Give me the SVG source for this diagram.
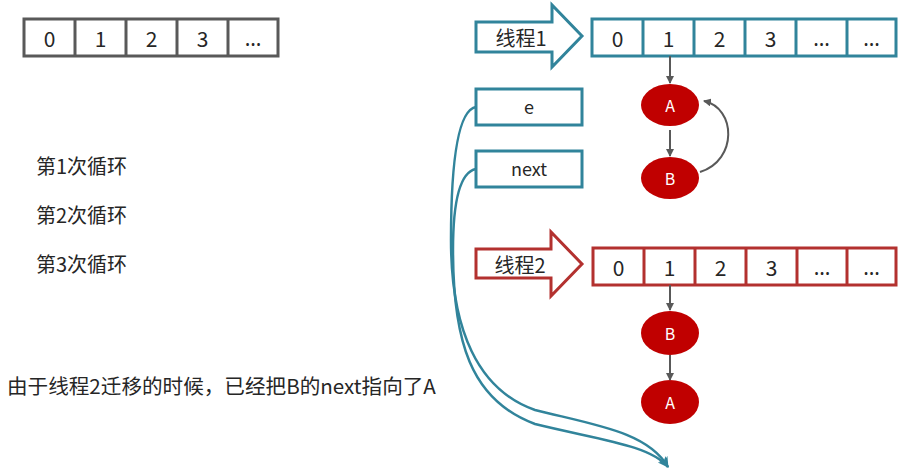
<svg xmlns="http://www.w3.org/2000/svg" width="901" height="475" viewBox="0 0 901 475">
<style>
text{font-family:"Noto Sans CJK SC","Noto Sans",sans-serif;fill:#262626;dominant-baseline:central}
.cell{font-size:21px;text-anchor:middle}
.dots{font-family:"Noto Sans",sans-serif}
.lbl{font-size:20px}
.gray{fill:#fff;stroke:#595959;stroke-width:3}
.teal{fill:#fff;stroke:#31849b;stroke-width:3}
.red{fill:#fff;stroke:#b3312f;stroke-width:3}
.node{fill:#c00000}
.nt{fill:#fff;font-size:16px;text-anchor:middle}
.conn{fill:none;stroke:#595959;stroke-width:2}
.tc{fill:none;stroke:#31849b;stroke-width:2.5}
</style>
<defs>
<marker id="ag" markerWidth="8" markerHeight="8" refX="7" refY="4" orient="auto" markerUnits="userSpaceOnUse">
<path d="M0,0 L8,4 L0,8 Z" fill="#595959"/>
</marker>
<marker id="at" markerWidth="12" markerHeight="12" refX="10" refY="6" orient="auto" markerUnits="userSpaceOnUse">
<path d="M0,1 L11,6 L0,11 L3,6 Z" fill="#31849b"/>
</marker>
</defs>

<g id="array0">
<rect class="gray" x="24" y="19" width="254" height="37"/>
<line x1="75" y1="19" x2="75" y2="56" stroke="#595959" stroke-width="3"/>
<line x1="126" y1="19" x2="126" y2="56" stroke="#595959" stroke-width="3"/>
<line x1="177" y1="19" x2="177" y2="56" stroke="#595959" stroke-width="3"/>
<line x1="228" y1="19" x2="228" y2="56" stroke="#595959" stroke-width="3"/>
<text class="cell" x="49.5" y="38">0</text>
<text class="cell" x="100.5" y="38">1</text>
<text class="cell" x="151.5" y="38">2</text>
<text class="cell" x="202.5" y="38">3</text>
<text class="cell dots" x="253" y="38">…</text>
</g>

<g id="thread1">
<polygon class="teal" points="476,22 552,22 552,5 582,36 552,67 552,52 476,52"/>
<text class="lbl" x="521" y="37" text-anchor="middle">线程1</text>
</g>

<g id="array1">
<rect class="teal" x="592" y="19" width="304" height="37"/>
<g stroke="#31849b" stroke-width="3">
<line x1="643" y1="19" x2="643" y2="56"/>
<line x1="694" y1="19" x2="694" y2="56"/>
<line x1="745" y1="19" x2="745" y2="56"/>
<line x1="796" y1="19" x2="796" y2="56"/>
<line x1="847" y1="19" x2="847" y2="56"/>
</g>
<text class="cell" x="617.5" y="38">0</text>
<text class="cell" x="668.5" y="38">1</text>
<text class="cell" x="719.5" y="38">2</text>
<text class="cell" x="770.5" y="38">3</text>
<text class="cell dots" x="821.5" y="38">…</text>
<text class="cell dots" x="871.5" y="38">…</text>
</g>

<g id="e">
<rect class="teal" x="476" y="89" width="106" height="36"/>
<text x="529" y="106" font-size="18" text-anchor="middle">e</text>
</g>
<g id="next">
<rect class="teal" x="476" y="151" width="106" height="36"/>
<text x="529" y="168" font-size="18" text-anchor="middle">next</text>
</g>

<g id="nodeA1">
<ellipse class="node" cx="670" cy="105" rx="29" ry="21"/>
<text class="nt" x="670" y="105">A</text>
</g>
<g id="nodeB1">
<ellipse class="node" cx="670" cy="178" rx="29" ry="21"/>
<text class="nt" x="670" y="178">B</text>
</g>

<g id="thread2">
<polygon class="red" points="476,249 551,249 551,232 582,264 551,296 551,278 476,278"/>
<text class="lbl" x="520" y="264" text-anchor="middle">线程2</text>
</g>

<g id="array2">
<rect class="red" x="593" y="248" width="303" height="37"/>
<g stroke="#b3312f" stroke-width="3">
<line x1="644" y1="248" x2="644" y2="285"/>
<line x1="695" y1="248" x2="695" y2="285"/>
<line x1="746" y1="248" x2="746" y2="285"/>
<line x1="797" y1="248" x2="797" y2="285"/>
<line x1="847" y1="248" x2="847" y2="285"/>
</g>
<text class="cell" x="618.5" y="267">0</text>
<text class="cell" x="669.5" y="267">1</text>
<text class="cell" x="720.5" y="267">2</text>
<text class="cell" x="771.5" y="267">3</text>
<text class="cell dots" x="822" y="267">…</text>
<text class="cell dots" x="871.5" y="267">…</text>
</g>

<g id="nodeB2">
<ellipse class="node" cx="670" cy="333" rx="29" ry="22"/>
<text class="nt" x="670" y="333">B</text>
</g>
<g id="nodeA2">
<ellipse class="node" cx="670" cy="402" rx="29" ry="22"/>
<text class="nt" x="670" y="402">A</text>
</g>

<g id="labels">
<text class="lbl" x="36" y="165">第1次循环</text>
<text class="lbl" x="36" y="214">第2次循环</text>
<text class="lbl" x="36" y="263">第3次循环</text>
<text x="7" y="385" font-size="20.6">由于线程2迁移的时候，已经把B的next指向了A</text>
</g>

<g id="connectors">
<line class="conn" x1="670" y1="56" x2="670" y2="83" marker-end="url(#ag)"/>
<line class="conn" x1="670" y1="130" x2="670" y2="156" marker-end="url(#ag)"/>
<path class="conn" d="M700,172 C738,160 736,108 704,101" marker-end="url(#ag)"/>
<line class="conn" x1="670" y1="285" x2="670" y2="310" marker-end="url(#ag)"/>
<line class="conn" x1="670" y1="355" x2="670" y2="380" marker-end="url(#ag)"/>
<path class="tc" d="M476,107 C458,110 451,160 451,240 C451,330 478,390 535,410 C595,425 648,432 668,467" marker-end="url(#at)"/>
<path class="tc" d="M476,169 C460,172 453,200 453,250 C453,340 470,400 535,424 C600,440 650,445 668,467" marker-end="url(#at)"/>
</g>
</svg>
